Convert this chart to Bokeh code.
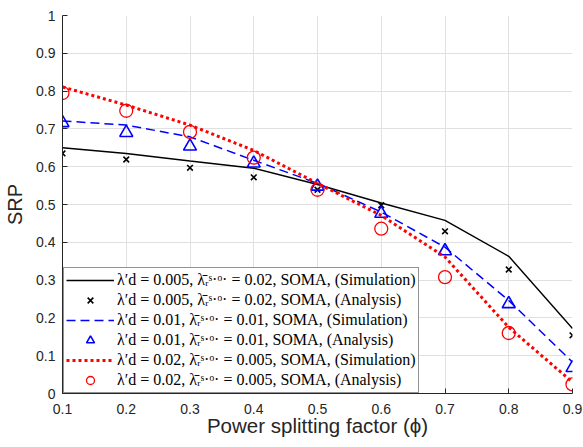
from bokeh.plotting import figure
from bokeh.models import Range1d, FixedTicker, Legend, LegendItem
from bokeh.embed import file_html
from bokeh.resources import INLINE

# ---- data ----
phi = [0.1, 0.2, 0.3, 0.4, 0.5, 0.6, 0.7, 0.8, 0.9]

sim_005 = [0.650, 0.635, 0.615, 0.596, 0.553, 0.504, 0.458, 0.363, 0.172]
ana_005 = [0.635, 0.619, 0.597, 0.572, 0.539, 0.498, 0.429, 0.328, 0.154]

sim_01 = [0.721, 0.710, 0.679, 0.617, 0.556, 0.480, 0.387, 0.246, 0.083]
ana_01 = [0.716, 0.690, 0.654, 0.609, 0.548, 0.476, 0.377, 0.237, 0.068]

sim_02 = [0.811, 0.763, 0.710, 0.643, 0.556, 0.471, 0.361, 0.175, 0.030]
ana_02 = [0.795, 0.748, 0.692, 0.624, 0.539, 0.436, 0.308, 0.160, 0.024]

x_ticks = [0.1, 0.2, 0.3, 0.4, 0.5, 0.6, 0.7, 0.8, 0.9]
x_tick_labels = ["0.1", "0.2", "0.3", "0.4", "0.5", "0.6", "0.7", "0.8", "0.9"]
y_ticks = [0.0, 0.1, 0.2, 0.3, 0.4, 0.5, 0.6, 0.7, 0.8, 0.9, 1.0]
y_tick_labels = ["0", "0.1", "0.2", "0.3", "0.4", "0.5", "0.6", "0.7", "0.8", "0.9", "1"]

legend_labels = [
    "λ′d = 0.005, λ̄ᵣˢ·ᵒ· = 0.02, SOMA, (Simulation)",
    "λ′d = 0.005, λ̄ᵣˢ·ᵒ· = 0.02, SOMA, (Analysis)",
    "λ′d = 0.01, λ̄ᵣˢ·ᵒ· = 0.01, SOMA, (Simulation)",
    "λ′d = 0.01, λ̄ᵣˢ·ᵒ· = 0.01, SOMA, (Analysis)",
    "λ′d = 0.02, λ̄ᵣˢ·ᵒ· = 0.005, SOMA, (Simulation)",
    "λ′d = 0.02, λ̄ᵣˢ·ᵒ· = 0.005, SOMA, (Analysis)",
]

p = figure(width=583, height=447, output_backend="svg", toolbar_location=None,
           x_range=Range1d(0.1, 0.9), y_range=Range1d(0, 1),
           min_border_left=62, min_border_right=11, min_border_top=15, min_border_bottom=54)

p.outline_line_color = None
p.background_fill_color = "white"
p.border_fill_color = "white"

for ax in (p.xaxis[0], p.yaxis[0]):
    ax.axis_line_color = "#262626"
    ax.axis_line_width = 1
    ax.major_tick_line_color = "#262626"
    ax.major_tick_in = 5
    ax.major_tick_out = 0
    ax.minor_tick_line_color = None
    ax.major_label_text_font = "Liberation Sans"
    ax.major_label_text_font_size = "14px"
    ax.major_label_text_color = "#262626"
    ax.axis_label_text_font = "Liberation Sans"
    ax.axis_label_text_font_style = "normal"
    ax.axis_label_text_color = "#262626"

p.xaxis.ticker = FixedTicker(ticks=x_ticks)
p.yaxis.ticker = FixedTicker(ticks=y_ticks)
p.xaxis.major_label_overrides = dict(zip(x_ticks, x_tick_labels))
p.yaxis.major_label_overrides = dict(zip(y_ticks, y_tick_labels))
p.xaxis.major_label_standoff = 10
p.yaxis.major_label_standoff = 7
p.xaxis.axis_label = "Power splitting factor (ϕ)"
p.yaxis.axis_label = "SRP"
p.xaxis.axis_label_text_font_size = "20.5px"
p.yaxis.axis_label_text_font_size = "20px"
p.xaxis.axis_label_standoff = -3
p.yaxis.axis_label_standoff = 7

p.xgrid.grid_line_color = "#e0e0e0"
p.ygrid.grid_line_color = "#e0e0e0"
p.xgrid.grid_line_width = 1
p.ygrid.grid_line_width = 1

r1 = p.line(phi, sim_005, line_color="black", line_width=1.4)
r2 = p.scatter(phi, ana_005, marker="x", size=8, line_color="black", line_width=1.6)
r3 = p.line(phi, sim_01, line_color="blue", line_width=1.5, line_dash="9 5")
r4 = p.scatter(phi, ana_01, marker="triangle", size=13, fill_color=None,
               line_color="blue", line_width=1.6)
r5 = p.line(phi, sim_02, line_color="red", line_width=3, line_dash="3 3")
r6 = p.scatter(phi, ana_02, marker="circle", size=13, fill_color=None,
               line_color="red", line_width=1.3)

renderers = [r1, r2, r3, r4, r5, r6]
legend = Legend(items=[LegendItem(label=lab, renderers=[r]) for lab, r in zip(legend_labels, renderers)],
                location=(1, 0))
legend.border_line_color = "#262626"
legend.border_line_width = 1
legend.background_fill_color = "white"
legend.background_fill_alpha = 1
legend.padding = 2
legend.spacing = 0
legend.margin = 0
legend.label_height = 20
legend.glyph_height = 20
legend.glyph_width = 48
legend.label_standoff = 3
legend.label_text_font = "Liberation Serif"
legend.label_text_font_size = "16px"
legend.label_text_color = "black"
p.add_layout(legend)

open("out.html", "w").write(file_html(p, INLINE))
